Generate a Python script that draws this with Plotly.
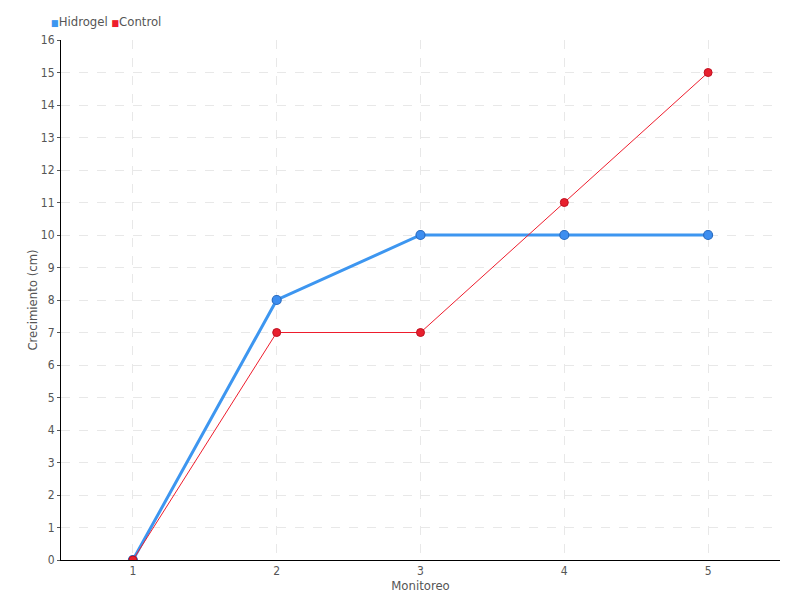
import plotly.graph_objects as go

monitoreo = [1, 2, 3, 4, 5]
hidrogel = [0, 8, 10, 10, 10]
control = [0, 7, 7, 11, 15]
y_ticks = list(range(0, 17))

FONT = "DejaVu Sans Condensed, Liberation Sans Narrow, sans-serif"
BLUE = "#3d96f0"
RED = "#ee1d2d"

fig = go.Figure()
fig.add_trace(go.Scatter(
    x=monitoreo, y=hidrogel, name="Hidrogel", mode="lines+markers",
    line=dict(color=BLUE, width=3),
    marker=dict(size=9, color="#3d8ef0", line=dict(color="#2a6cc0", width=1.2)),
    showlegend=False,
))
fig.add_trace(go.Scatter(
    x=monitoreo, y=control, name="Control", mode="lines+markers",
    line=dict(color=RED, width=1),
    marker=dict(size=8, color="#e8202e", line=dict(color="#c01020", width=1)),
    showlegend=False,
))

fig.add_annotation(
    xref="paper", yref="paper", x=-0.016, y=1.0, yshift=19, xanchor="left", yanchor="middle",
    showarrow=False,
    text=(f"<span style='color:{BLUE};font-size:9px'>■</span>Hidrogel "
          f"<span style='color:{RED};font-size:9px'>■</span>Control"),
    font=dict(family=FONT, size=13, color="#555555"),
)

fig.update_layout(
    width=800, height=600,
    paper_bgcolor="white", plot_bgcolor="white",
    margin=dict(l=53, r=28, t=32, b=48),
    font=dict(family=FONT, size=12, color="#555555"),
    showlegend=False,
    xaxis=dict(
        range=[0.5, 5.5], tickvals=monitoreo, ticktext=[str(v) for v in monitoreo],
        showline=True, linecolor="black", linewidth=1,
        showgrid=True, gridcolor="#e8e8e8", griddash="dash", gridwidth=1,
        ticks="",
        tickfont=dict(size=12, color="#555555"),
        title=dict(text="Monitoreo", standoff=0, font=dict(size=13, color="#555555")),
        zeroline=False, automargin=False,
    ),
    yaxis=dict(
        range=[0, 16], tickvals=y_ticks,
        showline=True, linecolor="black", linewidth=1,
        showgrid=True, gridcolor="#e8e8e8", griddash="dash", gridwidth=1,
        ticks="outside", ticklen=3, tickcolor="#555555",
        tickfont=dict(size=12, color="#555555"),
        title=dict(text="Crecimiento (cm)", standoff=0, font=dict(size=13, color="#555555")),
        zeroline=False, automargin=False,
    ),
)

fig.write_html("out.html")
